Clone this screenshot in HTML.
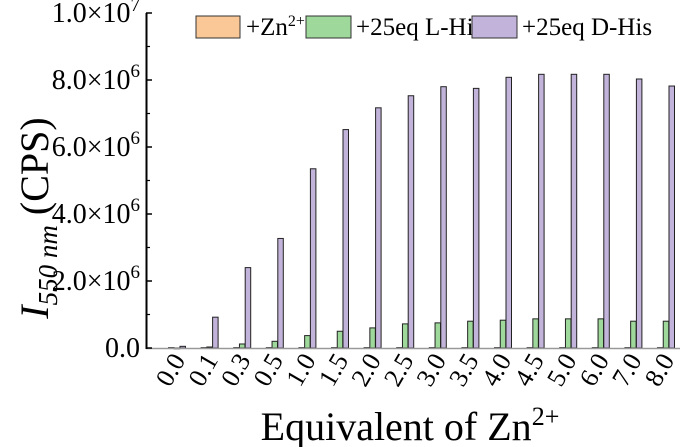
<!DOCTYPE html>
<html><head><meta charset="utf-8"><style>
body{margin:0;background:#fff}
svg{display:block;font-family:"Liberation Serif",serif}
</style></head><body>
<svg id="chart" width="700" height="447">
<g id="marks"></g>
<g id="axes"></g>
<g>
 <rect x="196" y="16" width="44" height="22" fill="#fac796" stroke="#333" stroke-width="1"/>
 <text x="246" y="35" font-size="25">+Zn<tspan dy="-9" font-size="16">2+</tspan></text>
 <rect x="306" y="16" width="45" height="22" fill="#9ed99b" stroke="#333" stroke-width="1"/>
 <text x="356" y="35" font-size="25">+25eq L-His</text>
 <rect x="472" y="16" width="45" height="22" fill="#c2b3da" stroke="#333" stroke-width="1"/>
 <text x="522" y="35" font-size="25">+25eq D-His</text>
</g>
<text transform="translate(48,218) rotate(-90)" text-anchor="middle" font-size="40"><tspan font-style="italic">I</tspan><tspan font-style="italic" font-size="27" dy="9">550 nm</tspan><tspan dy="-9"> (CPS)</tspan></text>
<text x="410" y="440" text-anchor="middle" font-size="40">Equivalent of Zn<tspan dy="-15" font-size="26">2+</tspan></text>
</svg>
<script>
const categories=["0.0","0.1","0.3","0.5","1.0","1.5","2.0","2.5","3.0","3.5","4.0","4.5","5.0","6.0","7.0","8.0"];
const znValues=[0.01,0.01,0.01,0.01,0.01,0.01,0.01,0.01,0.01,0.01,0.01,0.01,0.01,0.01,0.01,0.01];
const lHisValues=[0.0,0.03,0.12,0.2,0.37,0.5,0.6,0.72,0.75,0.8,0.83,0.87,0.87,0.87,0.8,0.8];
const dHisValues=[0.05,0.92,2.4,3.27,5.35,6.52,7.17,7.53,7.8,7.75,8.08,8.17,8.17,8.17,8.03,7.82];
const yTicks=[0,2,4,6,8,10];
const yTickLabels=["0.0","2.0×10<tspan dy='-12' font-size='19'>6</tspan>","4.0×10<tspan dy='-12' font-size='19'>6</tspan>","6.0×10<tspan dy='-12' font-size='19'>6</tspan>","8.0×10<tspan dy='-12' font-size='19'>6</tspan>","1.0×10<tspan dy='-11' font-size='19'>7</tspan>"];
const NS="http://www.w3.org/2000/svg";
const y=v=>348-v*33.5;
const x=i=>177+i*32.6;
const marks=document.getElementById('marks'),axes=document.getElementById('axes');
function mk(tag,attrs,parent){const e=document.createElementNS(NS,tag);for(const k in attrs)e.setAttribute(k,attrs[k]);parent.appendChild(e);return e;}
const series=[[znValues,"#fac796",-8.5,"bar-zn"],[lHisValues,"#9ed99b",-2.75,"bar-l-his"],[dHisValues,"#c2b3da",3,"bar-d-his"]];
categories.forEach((c,i)=>{
 series.forEach(s=>{
  const v=s[0][i];
  const r=mk('rect',{x:x(i)+s[2],y:y(v),width:5.5,height:Math.max(348-y(v),0.8),fill:s[1],stroke:'#222','stroke-width':1},marks);
  
  
 });
 const t=mk('text',{transform:`translate(${x(i)+9},360) rotate(-60)`,'text-anchor':'end','font-size':26},axes);
 t.textContent=c;
 
 
});
const xa=mk('line',{x1:146,y1:348.5,x2:680,y2:348.5,stroke:'#999','stroke-width':1.5},axes);


const ya=mk('line',{x1:146.5,y1:13,x2:146.5,y2:349,stroke:'#000','stroke-width':2},axes);


yTicks.forEach((v,i)=>{
 const tk=mk('line',{x1:146,y1:y(v),x2:152,y2:y(v),stroke:'#000','stroke-width':1.5},axes);
 
 
 if(i<yTicks.length-1){const m=mk('line',{x1:146,y1:y(v+1),x2:150,y2:y(v+1),stroke:'#000','stroke-width':1.2},axes);
 
 }
 const t=mk('text',{x:140,y:y(v)+9,'text-anchor':'end','font-size':28},axes);
 t.innerHTML=yTickLabels[i];
 
 
});
</script>
</body></html>
